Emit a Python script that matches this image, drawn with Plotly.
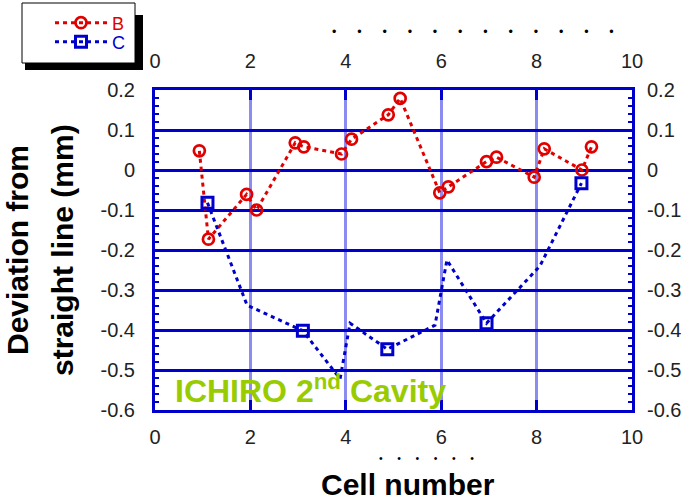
import plotly.graph_objects as go

# ---- data ----
x_ticks = [0, 2, 4, 6, 8, 10]
x_ticktext = ["0", "2", "4", "6", "8", "10"]
y_ticks = [0.2, 0.1, 0.0, -0.1, -0.2, -0.3, -0.4, -0.5, -0.6]
y_ticktext = ["0.2", "0.1", "0", "-0.1", "-0.2", "-0.3", "-0.4", "-0.5", "-0.6"]

b_x = [0.93, 1.12, 1.92, 2.13, 2.94, 3.12, 3.91, 4.12, 4.89, 5.14,
       5.97, 6.15, 6.95, 7.16, 7.95, 8.16, 8.95, 9.15]
b_y = [0.048, -0.173, -0.061, -0.100, 0.068, 0.058, 0.040, 0.077, 0.138, 0.179,
       -0.057, -0.042, 0.021, 0.032, -0.018, 0.053, 0.000, 0.058]

c_x = [1.10, 1.93, 3.10, 3.88, 4.09, 4.87, 5.87, 6.12, 6.95, 8.07, 8.94]
c_y = [-0.082, -0.338, -0.402, -0.522, -0.383, -0.448, -0.388, -0.225, -0.383, -0.240, -0.033]
c_marked = [0, 2, 5, 8, 10]  # indices of points drawn with a square marker

y_minor = [round(-0.6 + 0.02 * i, 2) for i in range(41)]

# ---- geometry helpers (pixel -> paper) ----
W, H = 698, 501
L, R, T, B = 155, 632, 90, 410


def px(v):
    return (v - L) / (R - L)


def py(v):
    return (B - v) / (B - T)


RED = "#e00000"
BLUE = "#0000cc"
FRAME = "#0000cc"
LIGHT = "#8c8cf0"
GREEN = "#99cc00"
FONT = "Liberation Sans, Arial, sans-serif"
tickfont = dict(family=FONT, size=20, color="#222222")

fig = go.Figure()
fig.add_trace(go.Scatter(
    x=b_x, y=b_y, mode="lines+markers",
    name='<span style="color:#e00000">B</span>',
    legend="legend",
    line=dict(color=RED, width=3, dash="4px,4px"),
    marker=dict(symbol="circle-open", size=11, color=RED, line=dict(width=2.7, color=RED)),
    hoverinfo="skip",
))
fig.add_trace(go.Scatter(
    x=c_x, y=c_y, mode="lines+markers",
    name='<span style="color:#0000cc">C</span>',
    legend="legend2",
    line=dict(color=BLUE, width=3, dash="4px,4px"),
    marker=dict(symbol="square-open", size=11, color=BLUE, line=dict(width=3, color=BLUE)),
    selectedpoints=c_marked,
    selected=dict(marker=dict(opacity=1)),
    unselected=dict(marker=dict(opacity=0)),
    hoverinfo="skip",
))
# dummy trace to realise the top / right mirror axes
fig.add_trace(go.Scatter(x=[None], y=[None], xaxis="x2", yaxis="y2",
                         showlegend=False, hoverinfo="skip"))

xcommon = dict(range=[0, 10], tickmode="array", tickvals=x_ticks, ticktext=x_ticktext,
               ticks="inside", ticklen=10, tickwidth=3, tickcolor=FRAME,
               showline=True, linewidth=3, linecolor=FRAME, zeroline=False,
               tickfont=tickfont, fixedrange=True)
ycommon = dict(range=[-0.6, 0.2], tickmode="array", tickvals=y_ticks, ticktext=y_ticktext,
               ticks="inside", ticklen=4, tickwidth=2, tickcolor=FRAME,
               minor=dict(tickmode="array", tickvals=y_minor, ticks="inside", ticklen=4,
                          tickwidth=2, tickcolor=FRAME, showgrid=False),
               showline=True, linewidth=3, linecolor=FRAME, zeroline=False,
               tickfont=tickfont, fixedrange=True)

legend_common = dict(xanchor="left", yanchor="middle", bgcolor="rgba(0,0,0,0)",
                     borderwidth=0, font=dict(family=FONT, size=18), itemwidth=52)

fig.update_layout(
    width=W, height=H,
    margin=dict(l=L, r=W - R, t=T, b=H - B, pad=0, autoexpand=False),
    paper_bgcolor="white", plot_bgcolor="white",
    showlegend=True,
    xaxis=dict(**xcommon, side="bottom", showgrid=True, gridcolor=LIGHT, gridwidth=3,
               ticklabelstandoff=7),
    xaxis2=dict(**xcommon, side="top", overlaying="x", anchor="y2", showgrid=False,
                ticklabelstandoff=11),
    yaxis=dict(**ycommon, side="left", showgrid=True, gridcolor=BLUE, gridwidth=3,
               ticklabelstandoff=13),
    yaxis2=dict(**ycommon, side="right", overlaying="y", anchor="x2", showgrid=False,
                ticklabelstandoff=8),
    legend=dict(**legend_common, x=px(50), y=py(23)),
    legend2=dict(**legend_common, x=px(50), y=py(42)),
)

# legend frame with drop shadow
fig.add_shape(type="rect", xref="paper", yref="paper",
              x0=px(25), x1=px(143), y0=py(70), y1=py(15),
              fillcolor="black", line=dict(width=0), layer="below")
fig.add_shape(type="rect", xref="paper", yref="paper",
              x0=px(22), x1=px(135), y0=py(63), y1=py(3),
              fillcolor="white", line=dict(color="black", width=1), layer="below")

# texts
fig.add_annotation(xref="paper", yref="paper", x=px(17), y=0.5, text="<b>Deviation from</b>",
                   textangle=-90, showarrow=False, xanchor="center", yanchor="middle",
                   font=dict(family=FONT, size=30, color="black"))
fig.add_annotation(xref="paper", yref="paper", x=px(62), y=0.5, text="<b>straight line (mm)</b>",
                   textangle=-90, showarrow=False, xanchor="center", yanchor="middle",
                   font=dict(family=FONT, size=30, color="black"))
fig.add_annotation(xref="paper", yref="paper", x=px(408), y=py(484), text="<b>Cell number</b>",
                   showarrow=False, xanchor="center", yanchor="middle",
                   font=dict(family=FONT, size=30, color="black"))
fig.add_annotation(xref="paper", yref="paper", x=px(173), y=py(389),
                   text="<b>ICHIRO 2<sup>nd</sup> Cavity</b>",
                   showarrow=False, xanchor="left", yanchor="middle",
                   font=dict(family=FONT, size=32, color=GREEN))

# decorative dot rows
nb = "\u00a0"
fig.add_annotation(xref="paper", yref="paper", x=px(472.7), y=py(32),
                   text=(nb * 6).join(["\u2022"] * 12), showarrow=False,
                   xanchor="center", yanchor="middle",
                   font=dict(family=FONT, size=12.5, color="black"))
fig.add_annotation(xref="paper", yref="paper", x=px(426), y=py(458),
                   text=(nb * 5).join(["\u2022"] * 6), showarrow=False,
                   xanchor="center", yanchor="middle",
                   font=dict(family=FONT, size=10.5, color="black"))

fig.write_html("out.html")
